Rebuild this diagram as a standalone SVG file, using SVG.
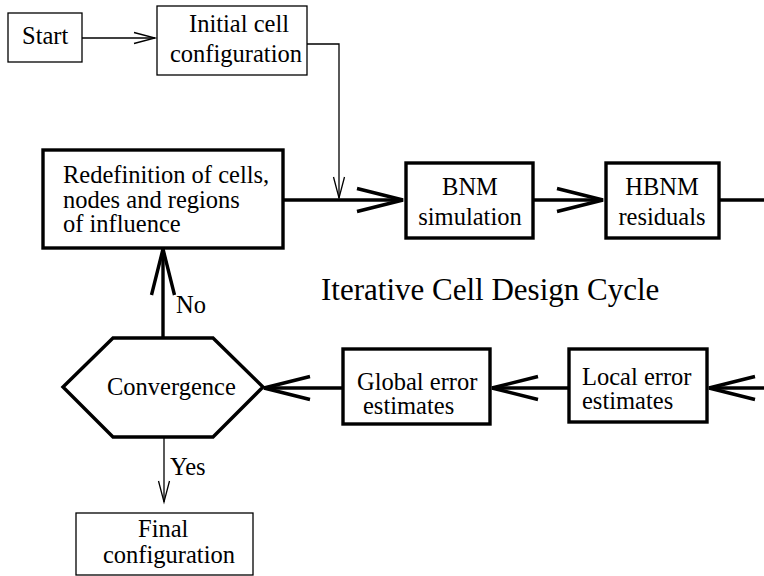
<svg xmlns="http://www.w3.org/2000/svg" width="764" height="576" viewBox="0 0 764 576" font-family="'Liberation Serif', 'DejaVu Serif', serif">
  <style>
    text { font-family: 'Liberation Serif', 'DejaVu Serif', serif; font-size: 24.5px; fill: #000; }
    .title { font-size: 31px; }
    .thin { fill: #fff; stroke: #000; stroke-width: 1.3; }
    .thick { fill: #fff; stroke: #000; stroke-width: 3.4; }
    .cthin { fill: none; stroke: #000; stroke-width: 1.3; }
    .cthick { fill: none; stroke: #000; stroke-width: 3.4; }
  </style>
  <defs>
    <marker id="openBig" markerUnits="userSpaceOnUse" viewBox="-50 -16 54 32" refX="0" refY="0" markerWidth="54" markerHeight="32" orient="auto" overflow="visible">
      <path d="M -46 -11.5 L 0 0 L -46 11.5" fill="none" stroke="#000" stroke-width="3.4"/>
    </marker>
    <marker id="openSmall" markerUnits="userSpaceOnUse" viewBox="-26 -8 30 16" refX="0" refY="0" markerWidth="30" markerHeight="16" orient="auto" overflow="visible">
      <path d="M -21 -5.5 L 0 0 L -21 5.5" fill="none" stroke="#000" stroke-width="1.3"/>
    </marker>
  </defs>

  <!-- connectors -->
  <g id="connectors">
    <line class="cthin" x1="82" y1="38" x2="155" y2="38" marker-end="url(#openSmall)"/>
    <polyline class="cthin" points="307,44 339,44 339,198" marker-end="url(#openSmall)"/>
    <line class="cthick" x1="283" y1="200" x2="403" y2="200" marker-end="url(#openBig)"/>
    <line class="cthick" x1="533" y1="200" x2="603" y2="200" marker-end="url(#openBig)"/>
    <line class="cthick" x1="720" y1="200" x2="764" y2="200"/>
    <line class="cthick" x1="770" y1="388" x2="709" y2="388" marker-end="url(#openBig)"/>
    <line class="cthick" x1="569" y1="388" x2="492" y2="388" marker-end="url(#openBig)"/>
    <line class="cthick" x1="343" y1="388" x2="264" y2="388" marker-end="url(#openBig)"/>
    <line class="cthick" x1="163" y1="338" x2="163" y2="249" marker-end="url(#openBig)"/>
    <line class="cthin" x1="164" y1="437" x2="164" y2="502" marker-end="url(#openSmall)"/>
    <text x="176" y="313">No</text>
    <text x="170" y="475">Yes</text>
  </g>

  <g id="start">
    <rect class="thin" x="8" y="13" width="74" height="49"/>
    <text x="22" y="44">Start</text>
  </g>

  <g id="initial">
    <rect class="thin" x="157" y="6" width="150" height="69"/>
    <text x="189" y="32">Initial cell</text>
    <text x="170" y="62">configuration</text>
  </g>

  <g id="redefinition">
    <rect class="thick" x="43" y="150" width="240" height="98"/>
    <text x="63" y="183">Redefinition of cells,</text>
    <text x="63" y="208">nodes and regions</text>
    <text x="63" y="232">of influence</text>
  </g>

  <g id="bnm">
    <rect class="thick" x="406" y="163" width="127" height="75"/>
    <text x="470" y="195" text-anchor="middle">BNM</text>
    <text x="470" y="225" text-anchor="middle">simulation</text>
  </g>

  <g id="hbnm">
    <rect class="thick" x="606" y="163" width="113" height="75"/>
    <text x="662" y="195" text-anchor="middle">HBNM</text>
    <text x="662" y="225" text-anchor="middle">residuals</text>
  </g>

  <text class="title" x="321" y="300">Iterative Cell Design Cycle</text>

  <g id="local">
    <rect class="thick" x="569" y="349" width="138" height="73"/>
    <text x="582" y="385">Local error</text>
    <text x="582" y="409">estimates</text>
  </g>

  <g id="global">
    <rect class="thick" x="343" y="349" width="147" height="75"/>
    <text x="357" y="390">Global error</text>
    <text x="363" y="414">estimates</text>
  </g>

  <g id="convergence">
    <polygon class="thick" points="63,387 113,338 213,338 263,387 213,437 113,437"/>
    <text x="107" y="395">Convergence</text>
  </g>

  <g id="final">
    <rect class="thin" x="76" y="513" width="177" height="62"/>
    <text x="138" y="537">Final</text>
    <text x="103" y="563">configuration</text>
  </g>
</svg>
